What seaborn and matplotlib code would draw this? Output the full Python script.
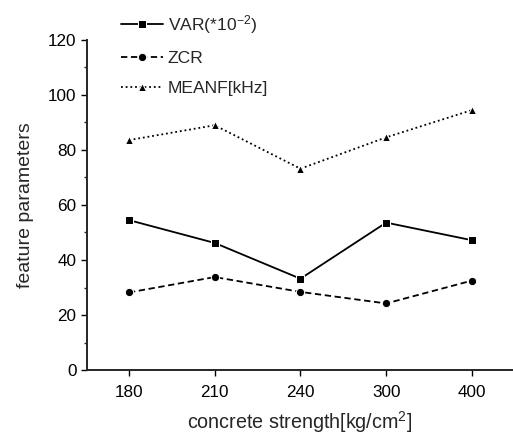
import pandas as pd
import matplotlib
matplotlib.use("Agg")
import matplotlib.pyplot as plt
import seaborn as sns

# ── DATA ─────────────────────────────────────────────────────
strength = ["180", "210", "240", "300", "400"]
var_vals = [54.5, 46.2, 33.2, 53.6, 47.2]
zcr_vals = [28.2, 33.8, 28.4, 24.2, 32.5]
meanf_vals = [83.6, 89.0, 73.2, 84.6, 94.5]
series_names = ["VAR(*10$^{-2}$)", "ZCR", "MEANF[kHz]"]
y_ticks = [0, 20, 40, 60, 80, 100, 120]

# long-form table for seaborn
df = pd.DataFrame({
    "strength": strength * 3,
    "value": var_vals + zcr_vals + meanf_vals,
    "feature": [series_names[0]] * 5 + [series_names[1]] * 5 + [series_names[2]] * 5,
})

# ── STYLE ────────────────────────────────────────────────────
sns.set_style("ticks")
plt.rcParams["font.family"] = ["Liberation Sans", "DejaVu Sans"]
plt.rcParams["mathtext.fontset"] = "custom"
plt.rcParams["mathtext.rm"] = "Liberation Sans"
plt.rcParams["mathtext.it"] = "Liberation Sans:italic"

fig = plt.figure(figsize=(5.13, 4.40), dpi=100)
ax = fig.add_axes([87 / 513, 1 - 370 / 440, 1 - 87 / 513, 330 / 440])

sns.lineplot(
    data=df, x="strength", y="value", style="feature",
    markers={series_names[0]: "s", series_names[1]: "o", series_names[2]: "^"},
    dashes={series_names[0]: "", series_names[1]: (3.5, 2), series_names[2]: (1, 1.6)},
    color="black", linewidth=1.3, markersize=6, ax=ax, sort=False,
)

ax.set_xlim(-0.49, 4.48)
ax.set_ylim(0, 120)
ax.set_yticks(y_ticks)
ax.set_yticks(range(10, 120, 20), minor=True)
ax.tick_params(axis="both", which="major", direction="out", length=4, width=1,
               labelsize=12.3, colors="black")
ax.tick_params(axis="x", which="major", pad=7)
ax.tick_params(axis="y", which="minor", direction="out", length=2.5, width=1)
for s in ["left", "bottom"]:
    ax.spines[s].set_linewidth(1.4)
sns.despine(ax=ax)

ax.set_xlabel("concrete strength[kg/cm$^2$]", fontsize=14.2, labelpad=6)
ax.set_ylabel("feature parameters", fontsize=14, labelpad=10)

leg = ax.legend(
    loc="upper left", bbox_to_anchor=(112 / 513, 1 - 4 / 440),
    bbox_transform=fig.transFigure, frameon=False, fontsize=12.6,
    handlelength=2.4, handletextpad=0.3, labelspacing=0.85, borderpad=0,
)

fig.savefig("out.png", dpi=100)
